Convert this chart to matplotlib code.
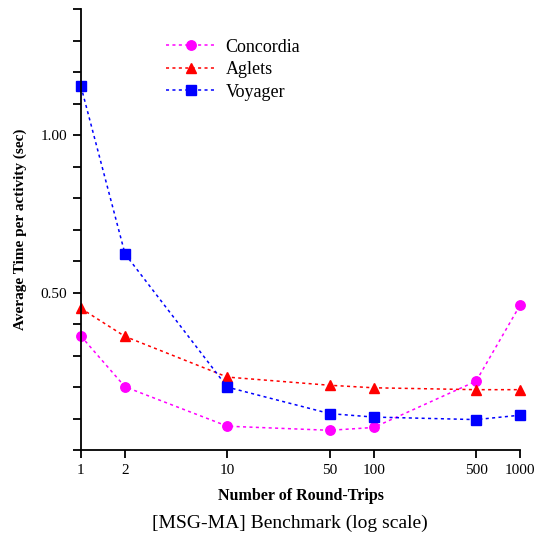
import matplotlib
matplotlib.use("Agg")
import matplotlib.pyplot as plt
from matplotlib.ticker import FixedLocator, MultipleLocator, NullFormatter, NullLocator

plt.rcParams["font.family"] = ["Liberation Serif", "DejaVu Serif"]

# round trips (log x)
round_trips = [1, 2, 10, 50, 100, 500, 1000]
tick_labels = ["1", "2", "10", "50", "100", "500", "1000"]

# average time per activity (sec)
concordia = [0.362, 0.201, 0.076, 0.063, 0.072, 0.219, 0.461]
aglets = [0.450, 0.361, 0.232, 0.206, 0.198, 0.192, 0.192]
voyager = [1.155, 0.623, 0.200, 0.116, 0.105, 0.097, 0.111]

fig = plt.figure(figsize=(5.47, 5.43), dpi=100)
ax = fig.add_axes([0.148, 0.171, 0.803, 0.812])

dash = (0, (2, 2.2))
ax.plot(round_trips, concordia, color="magenta", linestyle=dash, linewidth=1.1,
        marker="o", markersize=6.8, label="Concordia", clip_on=False)
ax.plot(round_trips, aglets, color="red", linestyle=dash, linewidth=1.1,
        marker="^", markersize=7.5, label="Aglets", clip_on=False)
ax.plot(round_trips, voyager, color="blue", linestyle=dash, linewidth=1.1,
        marker="s", markersize=6.5, label="Voyager", clip_on=False)

ax.set_xscale("log")
ax.set_xlim(1, 1000)
ax.set_ylim(0, 1.4)

ax.xaxis.set_major_locator(FixedLocator(round_trips))
ax.xaxis.set_minor_locator(NullLocator())
ax.set_xticklabels(tick_labels)
ax.xaxis.set_minor_formatter(NullFormatter())

ax.yaxis.set_major_locator(FixedLocator([0.5, 1.0]))
ax.yaxis.set_minor_locator(MultipleLocator(0.1))
ax.set_yticklabels(["0.50", "1.00"])

for side in ["top", "right"]:
    ax.spines[side].set_visible(False)
for side in ["left", "bottom"]:
    ax.spines[side].set_linewidth(1.3)

ax.tick_params(axis="both", which="major", direction="out", length=6, width=1.3,
               labelsize=11, pad=4)
ax.tick_params(axis="y", which="minor", direction="out", length=6, width=1.3)

ax.set_xlabel("Number of Round-Trips", fontsize=11.5, fontweight="bold", labelpad=8)
ax.set_ylabel("Average Time per activity (sec)", fontsize=11, fontweight="bold", labelpad=10)

ax.legend(loc="upper left", bbox_to_anchor=(0.29, 0.942), bbox_transform=fig.transFigure,
          frameon=False, fontsize=13, handlelength=2.8, handletextpad=0.5,
          labelspacing=0.3, borderaxespad=0)

fig.text(0.53, 0.036, "[MSG-MA] Benchmark (log scale)", ha="center", va="center", fontsize=14)

fig.savefig("out.png", dpi=100)
